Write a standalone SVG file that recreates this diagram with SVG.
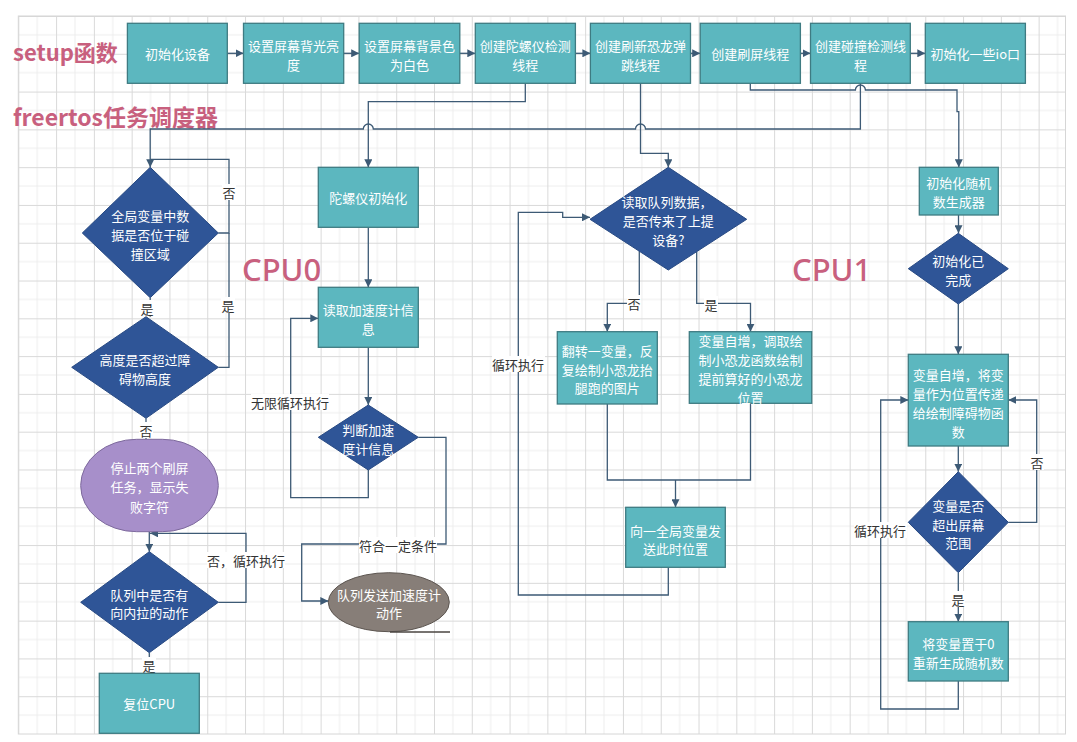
<svg xmlns="http://www.w3.org/2000/svg" width="1077" height="742" viewBox="0 0 1077 742">
<style>
.box{fill:#5cb7bf;stroke:#3e7b82;stroke-width:1.3}
.dia{fill:#2f5597;stroke:#284a83;stroke-width:1}
.pur{fill:#a78fca;stroke:#7e6a9d;stroke-width:1}
.gry{fill:#877e78;stroke:#5c5550;stroke-width:1}
.nt{font-family:"Noto Sans CJK SC","Noto Sans",sans-serif;font-size:13px;fill:#ffffff;text-anchor:middle;dominant-baseline:central}
.con{fill:none;stroke:#3d5a75;stroke-width:1.3}
.lb{font-family:"Noto Sans CJK SC","Noto Sans",sans-serif;font-size:13px;fill:#333333;text-anchor:middle;dominant-baseline:central}
.lbg{fill:#ffffff}
.ttl{font-family:"Noto Sans CJK SC","Noto Sans",sans-serif;fill:#c8607e;font-weight:bold}
.cpu{font-family:"Noto Sans","Noto Sans CJK SC",sans-serif;fill:#c8607e;font-size:31px;font-weight:500}
</style>
<defs>
<pattern id="grid" x="18.3" y="16" width="37.79" height="37.79" patternUnits="userSpaceOnUse">
<path d="M18.9,0 V37.79 M0,18.9 H37.79" fill="none" stroke="#ededed" stroke-width="1"/>
<path d="M0.5,0 V37.79 M0,0.5 H37.79" fill="none" stroke="#d9d9d9" stroke-width="1"/>
</pattern>
<marker id="ah" viewBox="0 0 10 10" refX="10" refY="5" markerWidth="8" markerHeight="8" markerUnits="userSpaceOnUse" orient="auto">
<path d="M0,0 L10,5 L0,10 z" fill="#3d5a75"/>
</marker>
</defs>
<rect x="0" y="0" width="1077" height="742" fill="#ffffff"/>
<rect x="18.3" y="16" width="1047.2" height="718" fill="url(#grid)" stroke="#d6d6d6" stroke-width="1"/>

<text class="ttl" x="13" y="61" font-size="22">setup函数</text>
<text class="ttl" x="13" y="126" font-size="23">freertos任务调度器</text>
<text class="cpu" x="242" y="281">CPU0</text>
<text class="cpu" x="792" y="281">CPU1</text>

<g id="connectors">
<path class="con" marker-end="url(#ah)" d="M227.3,53.3 H243.5"/>
<path class="con" marker-end="url(#ah)" d="M343.7,53.3 H359.2"/>
<path class="con" marker-end="url(#ah)" d="M459.8,53.3 H475.3"/>
<path class="con" marker-end="url(#ah)" d="M575.4,53.3 H590.4"/>
<path class="con" marker-end="url(#ah)" d="M690.5,53.3 H700.2"/>
<path class="con" marker-end="url(#ah)" d="M800.4,53.3 H810.5"/>
<path class="con" marker-end="url(#ah)" d="M910.3,53.3 H925.3"/>
<path class="con" marker-end="url(#ah)" d="M525.3,83.3 V101.7 H368.3 V167.3"/>
<path class="con" marker-end="url(#ah)" d="M640.5,83.3 V153.3 H668.3 V167.3"/>
<path class="con" marker-end="url(#ah)" d="M750.3,83.3 V90 H855.4 A5,5 0 0 1 865.4,90 H957 V111.7 H958.8 V167.3"/>
<path class="con" marker-end="url(#ah)" d="M860.4,83.3 V129 H645.5 A5,5 0 0 0 635.5,129 H373.3 A5,5 0 0 0 363.3,129 H150.2 V167.3"/>
<path class="con" d="M218.3,233 H229 V159.3 H150.2"/>
<path class="con" d="M218.3,367.3 H229 V233"/>
<path class="con" d="M150.2,297.7 V316.7"/>
<path class="con" d="M146,418.3 V439.3"/>
<path class="con" marker-end="url(#ah)" d="M149.3,531.7 V551.7"/>
<path class="con" marker-end="url(#ah)" d="M218.3,602.3 H246 V533.3 H150"/>
<path class="con" d="M149.3,652.7 V673.3"/>
<path class="con" marker-end="url(#ah)" d="M368.3,227.3 V287.3"/>
<path class="con" marker-end="url(#ah)" d="M368.3,347.3 V405"/>
<path class="con" marker-end="url(#ah)" d="M368.3,470 V497.7 H290.7 V318.3 H318.3"/>
<path class="con" marker-end="url(#ah)" d="M418.3,437.3 H446 V544 H301.7 V601 H328.3"/>
<path class="con" marker-end="url(#ah)" d="M639.3,251 V303.3 H607.3 V331.7"/>
<path class="con" marker-end="url(#ah)" d="M696.7,251.6 V303.3 H750.5 V331.7"/>
<path class="con" d="M607.3,404 V480 H750.5 V403.3"/>
<path class="con" marker-end="url(#ah)" d="M675.5,480 V507.3"/>
<path class="con" marker-end="url(#ah)" d="M668.3,567.3 V595 H518.3 V212.3 H562.7 V217.3 H590"/>
<path class="con" marker-end="url(#ah)" d="M958.5,215 V233.3"/>
<path class="con" marker-end="url(#ah)" d="M958.3,304 V354.3"/>
<path class="con" marker-end="url(#ah)" d="M958.3,446 V471.7"/>
<path class="con" marker-end="url(#ah)" d="M1008.3,522.3 H1036.7 V400 H1008.3"/>
<path class="con" marker-end="url(#ah)" d="M958.3,572.7 V621.7"/>
<path class="con" marker-end="url(#ah)" d="M958.3,681 V709 H880.7 V400 H908.3"/>
</g>

<g id="labels">
<rect class="lbg" x="222" y="184" width="14" height="16"/><text class="lb" x="229" y="192">否</text>
<rect class="lbg" x="221" y="297" width="14" height="16"/><text class="lb" x="228" y="305">是</text>
<rect class="lbg" x="140" y="300" width="14" height="16"/><text class="lb" x="147" y="308">是</text>
<rect class="lbg" x="139" y="422" width="14" height="16"/><text class="lb" x="146" y="430">否</text>
<rect class="lbg" x="207" y="552" width="78" height="16"/><text class="lb" x="246" y="560">否，循环执行</text>
<rect class="lbg" x="142" y="657" width="14" height="16"/><text class="lb" x="149" y="665">是</text>
<rect class="lbg" x="251" y="394" width="78" height="16"/><text class="lb" x="290" y="402">无限循环执行</text>
<rect class="lbg" x="359" y="537" width="78" height="16"/><text class="lb" x="398" y="545">符合一定条件</text>
<rect class="lbg" x="627" y="295" width="14" height="16"/><text class="lb" x="634" y="303">否</text>
<rect class="lbg" x="704" y="296" width="14" height="16"/><text class="lb" x="711" y="304">是</text>
<rect class="lbg" x="492" y="356" width="53" height="16"/><text class="lb" x="518" y="364">循环执行</text>
<rect class="lbg" x="1030" y="454" width="14" height="16"/><text class="lb" x="1037" y="462">否</text>
<rect class="lbg" x="951" y="591" width="14" height="16"/><text class="lb" x="958" y="599">是</text>
<rect class="lbg" x="854" y="522" width="53" height="16"/><text class="lb" x="880" y="530">循环执行</text>
</g>

<g id="n-init"><rect class="box" x="127.4" y="23.3" width="99.9" height="60"/><text class="nt" x="177.4" y="53.3">初始化设备</text></g>
<g id="n-backlight"><rect class="box" x="243.5" y="23.3" width="100.2" height="60"/><text class="nt" x="293.6" y="45">设置屏幕背光亮</text><text class="nt" x="293.6" y="64">度</text></g>
<g id="n-bgcolor"><rect class="box" x="359.2" y="23.3" width="100.6" height="60"/><text class="nt" x="409.5" y="45">设置屏幕背景色</text><text class="nt" x="409.5" y="64">为白色</text></g>
<g id="n-gyro-thread"><rect class="box" x="475.3" y="23.3" width="100.1" height="60"/><text class="nt" x="525.3" y="45">创建陀螺仪检测</text><text class="nt" x="525.3" y="64">线程</text></g>
<g id="n-dino-thread"><rect class="box" x="590.4" y="23.3" width="100.1" height="60"/><text class="nt" x="640.5" y="45">创建刷新恐龙弹</text><text class="nt" x="640.5" y="64">跳线程</text></g>
<g id="n-refresh-thread"><rect class="box" x="700.2" y="23.3" width="100.2" height="60"/><text class="nt" x="750.3" y="53.3">创建刷屏线程</text></g>
<g id="n-collide-thread"><rect class="box" x="810.5" y="23.3" width="99.8" height="60"/><text class="nt" x="860.4" y="45">创建碰撞检测线</text><text class="nt" x="860.4" y="64">程</text></g>
<g id="n-io"><rect class="box" x="925.3" y="23.3" width="100.1" height="60"/><text class="nt" x="975.3" y="53.3">初始化一些io口</text></g>

<g id="n-collide-check"><path class="dia" d="M150.2,167.3 L218.3,233 L150.2,297.7 L82.3,233 Z"/><text class="nt" x="150.2" y="215">全局变量中数</text><text class="nt" x="150.2" y="234">据是否位于碰</text><text class="nt" x="150.2" y="253">撞区域</text></g>
<g id="n-height-check"><path class="dia" d="M146,316.7 L218.3,367.3 L146,418.3 L71.7,367.3 Z"/><text class="nt" x="145" y="359">高度是否超过障</text><text class="nt" x="145" y="378">碍物高度</text></g>
<g id="n-stop"><rect class="pur" x="80.7" y="439.3" width="137.6" height="92.4" rx="56" ry="46"/><text class="nt" x="149.5" y="467">停止两个刷屏</text><text class="nt" x="149.5" y="486.5">任务，显示失</text><text class="nt" x="149.5" y="506">败字符</text></g>
<g id="n-pull-check"><path class="dia" d="M149.3,551.7 L218.3,602.3 L149.3,652.7 L80.7,602.3 Z"/><text class="nt" x="149.3" y="594">队列中是否有</text><text class="nt" x="149.3" y="612.7">向内拉的动作</text></g>
<g id="n-reset"><rect class="box" x="99.3" y="673.3" width="100" height="60"/><text class="nt" x="149.3" y="703.3">复位CPU</text></g>

<g id="n-gyro-init"><rect class="box" x="318.3" y="167.3" width="100" height="60"/><text class="nt" x="368.3" y="197.8">陀螺仪初始化</text></g>
<g id="n-read-acc"><rect class="box" x="318.3" y="287.3" width="100" height="60"/><text class="nt" x="368.3" y="309.3">读取加速度计信</text><text class="nt" x="368.3" y="328.3">息</text></g>
<g id="n-judge-acc"><path class="dia" d="M368.3,405 L418.3,437.3 L368.3,470 L318.3,437.3 Z"/><text class="nt" x="368.3" y="429.5">判断加速</text><text class="nt" x="368.3" y="448">度计信息</text></g>
<g id="n-send-acc"><ellipse class="gry" cx="388.8" cy="602.2" rx="60.5" ry="29.5"/><path d="M390,632 H450" stroke="#4a4440" stroke-width="1.3" fill="none"/><text class="nt" x="389" y="594">队列发送加速度计</text><text class="nt" x="389" y="612.7">动作</text></g>

<g id="n-read-queue"><path class="dia" d="M668.3,167.3 L746.7,219.3 L668.3,270 L590,219.3 Z"/><text class="nt" x="667" y="201.7">读取队列数据，</text><text class="nt" x="668.3" y="220.7">是否传来了上提</text><text class="nt" x="668.3" y="239.3">设备?</text></g>
<g id="n-flip"><rect class="box" x="557.3" y="331.7" width="100" height="72.3"/><text class="nt" x="607.3" y="350">翻转一变量，反</text><text class="nt" x="607.3" y="369">复绘制小恐龙抬</text><text class="nt" x="607.3" y="387.7">腿跑的图片</text></g>
<g id="n-jump"><rect class="box" x="689.3" y="331.7" width="122.4" height="71.6"/><text class="nt" x="750.5" y="340.7">变量自增，调取绘</text><text class="nt" x="750.5" y="359.3">制小恐龙函数绘制</text><text class="nt" x="750.5" y="378.5">提前算好的小恐龙</text><text class="nt" x="750.5" y="397">位置</text></g>
<g id="n-send-pos"><rect class="box" x="625.7" y="507.3" width="99.6" height="60"/><text class="nt" x="675.5" y="530">向一全局变量发</text><text class="nt" x="675.5" y="548.3">送此时位置</text></g>

<g id="n-rand-init"><rect class="box" x="919.3" y="167.3" width="79" height="47.7"/><text class="nt" x="958.8" y="182.7">初始化随机</text><text class="nt" x="958.8" y="201.7">数生成器</text></g>
<g id="n-init-done"><path class="dia" d="M958.3,233.3 L1008.3,268.7 L958.3,304 L908.3,268.7 Z"/><text class="nt" x="958.3" y="260">初始化已</text><text class="nt" x="958.3" y="279">完成</text></g>
<g id="n-obstacle"><rect class="box" x="908.3" y="354.3" width="100" height="91.7"/><text class="nt" x="958.3" y="374">变量自增，将变</text><text class="nt" x="958.3" y="393">量作为位置传递</text><text class="nt" x="958.3" y="412">给绘制障碍物函</text><text class="nt" x="958.3" y="431">数</text></g>
<g id="n-range-check"><path class="dia" d="M958.3,471.7 L1008.3,522.3 L958.3,572.7 L908.3,522.3 Z"/><text class="nt" x="958.3" y="505">变量是否</text><text class="nt" x="958.3" y="524">超出屏幕</text><text class="nt" x="958.3" y="542.7">范围</text></g>
<g id="n-reset-var"><rect class="box" x="908.3" y="621.7" width="100" height="59.3"/><text class="nt" x="958.3" y="643.3">将变量置于0</text><text class="nt" x="958.3" y="662.3">重新生成随机数</text></g>
</svg>
